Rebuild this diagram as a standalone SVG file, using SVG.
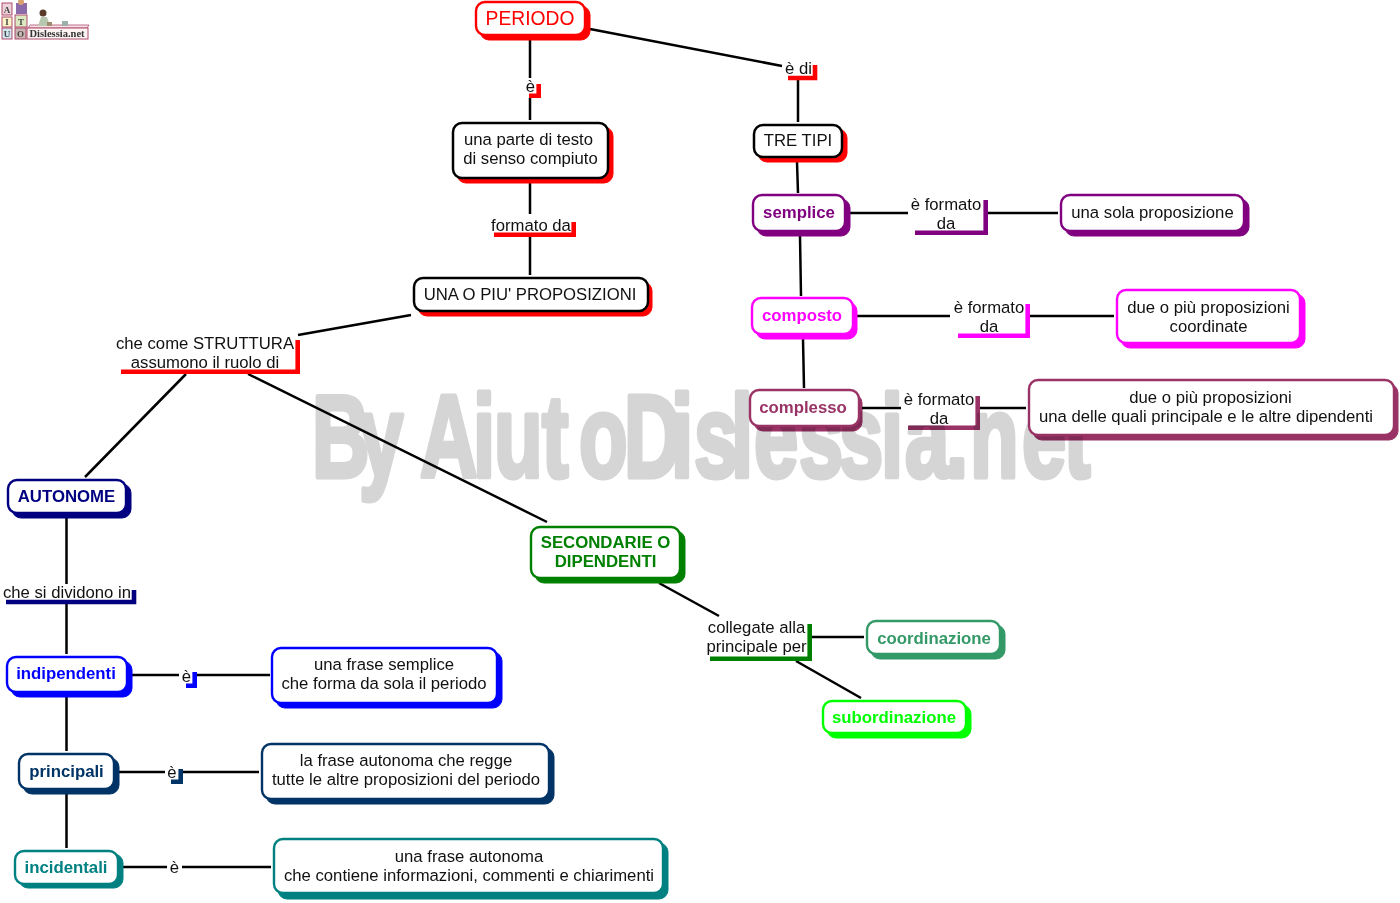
<svg xmlns="http://www.w3.org/2000/svg" width="1400" height="903" viewBox="0 0 1400 903">
<style>
text{font-family:"Liberation Sans",Arial,sans-serif;font-size:16.7px;text-anchor:middle;fill:#111}
.h text{font-weight:bold;font-size:16.8px;fill:currentColor}
.s{fill:currentColor;stroke:currentColor;stroke-width:1}
.b{fill:#fff;stroke:currentColor;stroke-width:2.4}
.k .b{stroke:#000;stroke-width:2.5}
.con path{fill:none;stroke:#000;stroke-width:2.5}
.lab path{fill:none;stroke:currentColor;stroke-width:4.6}
.red{color:#f00}.pur{color:#800080}.mag{color:#f0f}.plum{color:#993366}.nav{color:#000080}.grn{color:#008000}.blu{color:#00f}.dbl{color:#003366}.tea{color:#008080}.sea{color:#339966}.lim{color:#0f0}
.plum .s,.plum path{mix-blend-mode:multiply}
#watermark{font-family:"Liberation Sans",sans-serif;font-weight:bold;font-size:117px;fill:#d5d5d5;stroke:#d5d5d5;stroke-width:5;stroke-linejoin:round;text-anchor:start}
.lg text{font-family:"Liberation Serif",serif;font-weight:bold;font-size:9px;fill:#444}
</style>
<text id="watermark" transform="scale(.68 1)" y="477" x="458.800 527.900 588.200 617.600 695.600 726.500 797.100 851.500 917.600 986.800 1020.600 1075 1108.800 1175 1233.800 1295.600 1330.900 1391.200 1426.500 1502.900 1564.700">By AiutoDislessia.net</text>

<g id="logo" class="lg">
<path d="M28 28L30 25H89L87 28Z" fill="#f6e4e8" stroke="#b04a6c" stroke-width=".8"/>
<rect x="2" y="3" width="10" height="12" fill="#eed3da" stroke="#b04a6c"/>
<rect x="15" y="15" width="12" height="12" fill="#dbe8c0" stroke="#b04a6c"/>
<rect x="2" y="17" width="10" height="10" fill="#fbf5c8" stroke="#b04a6c"/>
<rect x="2" y="28" width="10" height="11" fill="#cfe6ef" stroke="#b04a6c"/>
<rect x="15" y="28" width="11" height="11" fill="#c9b5b0" stroke="#b04a6c"/>
<rect x="27" y="28" width="61" height="11" fill="#fdf3f3" stroke="#b04a6c"/>
<rect x="16" y="3" width="11" height="11" fill="#8a6aa8"/>
<circle cx="21" cy="2" r="3" fill="#d9a070"/>
<circle cx="43" cy="13" r="3.500" fill="#5a3a2a"/>
<path d="M38 26L41 17H47L50 26Z" fill="#b8c8b0"/>
<rect x="47" y="22" width="5" height="4" fill="#a08a70"/>
<rect x="62" y="21" width="6" height="5" fill="#9cb0a8"/>
<text x="7" y="13">A</text><text x="7" y="25">I</text><text x="21" y="25">T</text><text x="7" y="37">U</text><text x="20.500" y="37">O</text>
<text x="57" y="37" style="font-size:10.500px;fill:#333">Dislessia.net</text>
</g>

<g id="connectors" class="con">
<path d="M530 40V78M530 98V120"/>
<path d="M590 29L782 66M798 80V122"/>
<path d="M530 183V214M530 237V275"/>
<path d="M797 162L798 193M800 236L801 296M803 339L804 388"/>
<path d="M850 213H908M988 213H1058"/>
<path d="M857 316H950M1030 316H1114"/>
<path d="M862 408H901M980 408H1026"/>
<path d="M411 315L298 335M186 374L85 477M248 374L547 522"/>
<path d="M66.500 518V584M66.500 604V654M66.500 697V751M66.500 794V848"/>
<path d="M132 675H179M197 675H270"/>
<path d="M119 772H165M183 772H259"/>
<path d="M123 867H167M182 867H271"/>
<path d="M659 583L719 616M812 637H864M796 661L861 698"/>
</g>

<g id="node-periodo" class="red"><rect class="s" x="480" y="6" width="110" height="34" rx="9"/><rect class="b" x="476" y="2" width="109" height="33" rx="9"/><text x="530" y="25" style="font-size:19.300px;fill:#f00">PERIODO</text></g>
<g id="node-parte" class="red k"><rect class="s" x="457" y="127" width="156" height="56" rx="9"/><rect class="b" x="453" y="123" width="155" height="55" rx="9"/><text x="528.500" y="145">una parte di testo</text><text x="530.500" y="164">di senso compiuto</text></g>
<g id="node-tre" class="red k"><rect class="s" x="758" y="129" width="89" height="33" rx="9"/><rect class="b" x="754" y="125" width="88" height="32" rx="9"/><text x="798" y="146">TRE TIPI</text></g>
<g id="node-una-piu" class="red k"><rect class="s" x="418" y="282" width="234" height="34" rx="9"/><rect class="b" x="414" y="278" width="234" height="33" rx="9"/><text x="530" y="300">UNA O PIU' PROPOSIZIONI</text></g>
<g id="node-semplice" class="pur h"><rect class="s" x="757" y="199" width="93" height="37" rx="9"/><rect class="b" x="753" y="195" width="92" height="36" rx="9"/><text x="799" y="218">semplice</text></g>
<g id="node-composto" class="mag h"><rect class="s" x="756" y="302" width="101" height="37" rx="9"/><rect class="b" x="752" y="298" width="101" height="36" rx="9"/><text x="802" y="321">composto</text></g>
<g id="node-complesso" class="plum h"><rect class="s" x="754" y="394" width="108" height="37" rx="9"/><rect class="b" x="750" y="390" width="109" height="36" rx="9"/><text x="803" y="413">complesso</text></g>
<g id="node-sola" class="pur"><rect class="s" x="1065" y="199" width="184" height="37" rx="9"/><rect class="b" x="1061" y="195" width="183" height="36" rx="9"/><text x="1152.500" y="218">una sola proposizione</text></g>
<g id="node-coordinate" class="mag"><rect class="s" x="1121" y="294" width="184" height="54" rx="9"/><rect class="b" x="1117" y="290" width="183" height="53" rx="9"/><text x="1208.500" y="313">due o più proposizioni</text><text x="1208.500" y="332">coordinate</text></g>
<g id="node-dipendenti" class="plum"><rect class="s" x="1033" y="384" width="365" height="56" rx="9"/><rect class="b" x="1029" y="380" width="365" height="55" rx="9"/><text x="1210.500" y="403">due o più proposizioni</text><text x="1206" y="422">una delle quali principale e le altre dipendenti</text></g>
<g id="node-autonome" class="nav h"><rect class="s" x="12" y="484" width="119" height="34" rx="9"/><rect class="b" x="8" y="480" width="118" height="33" rx="9"/><text x="66.500" y="502">AUTONOME</text></g>
<g id="node-secondarie" class="grn h"><rect class="s" x="535" y="531" width="150" height="52" rx="9"/><rect class="b" x="531" y="527" width="149" height="51" rx="9"/><text x="605.500" y="548">SECONDARIE O</text><text x="605.500" y="567">DIPENDENTI</text></g>
<g id="node-indipendenti" class="blu h"><rect class="s" x="11" y="661" width="121" height="36" rx="9"/><rect class="b" x="7" y="657" width="120" height="35" rx="9"/><text x="66" y="679">indipendenti</text></g>
<g id="node-principali" class="dbl h"><rect class="s" x="23" y="758" width="96" height="36" rx="9"/><rect class="b" x="19" y="754" width="95" height="35" rx="9"/><text x="66.500" y="777">principali</text></g>
<g id="node-incidentali" class="tea h"><rect class="s" x="19" y="854" width="104" height="34" rx="9"/><rect class="b" x="15" y="851" width="103" height="33" rx="9"/><text x="66" y="873">incidentali</text></g>
<g id="node-semplice-def" class="blu"><rect class="s" x="276" y="652" width="226" height="56" rx="9"/><rect class="b" x="272" y="648" width="225" height="55" rx="9"/><text x="384" y="670">una frase semplice</text><text x="384" y="689">che forma da sola il periodo</text></g>
<g id="node-regge" class="dbl"><rect class="s" x="266" y="748" width="288" height="56" rx="9"/><rect class="b" x="262" y="744" width="287" height="55" rx="9"/><text x="406" y="766">la frase autonoma che regge</text><text x="406" y="785">tutte le altre proposizioni del periodo</text></g>
<g id="node-chiarimenti" class="tea"><rect class="s" x="278" y="843" width="390" height="56" rx="9"/><rect class="b" x="274" y="839" width="389" height="54" rx="9"/><text x="469" y="862">una frase autonoma</text><text x="469" y="881">che contiene informazioni, commenti e chiarimenti</text></g>
<g id="node-coordinazione" class="sea h"><rect class="s" x="871" y="625" width="134" height="34" rx="9"/><rect class="b" x="867" y="621" width="133" height="33" rx="9"/><text x="934" y="644">coordinazione</text></g>
<g id="node-subordinazione" class="lim h"><rect class="s" x="827" y="705" width="144" height="33" rx="9"/><rect class="b" x="823" y="701" width="143" height="32" rx="9"/><text x="894" y="723">subordinazione</text></g>

<g id="label-e1" class="lab red"><path d="M529 95.700H538.700V84"/><text x="530.500" y="92">è</text></g>
<g id="label-edi" class="lab red"><path d="M788 78H815V65"/><text x="798.500" y="74">è di</text></g>
<g id="label-formato" class="lab red"><path d="M494 234.700H573.700V222"/><text x="531" y="231">formato da</text></g>
<g id="label-struttura" class="lab red"><path d="M121 371.700H297.700V340"/><text x="205" y="349">che come STRUTTURA</text><text x="205" y="368">assumono il ruolo di</text></g>
<g id="label-f1" class="lab pur"><path d="M915 232.700H985.700V200"/><text x="946" y="210">è formato</text><text x="946" y="229">da</text></g>
<g id="label-f2" class="lab mag"><path d="M958 335.700H1027.700V304"/><text x="989" y="313">è formato</text><text x="989" y="332">da</text></g>
<g id="label-f3" class="lab plum"><rect x="901" y="388" width="76" height="37" fill="#fff"/><path d="M908 427.700H977.700V396"/><text x="939" y="405">è formato</text><text x="939" y="424">da</text></g>
<g id="label-dividono" class="lab nav"><path d="M6 602H134V590"/><text x="67" y="598">che si dividono in</text></g>
<g id="label-e2" class="lab blu"><path d="M186 685.700H194.700V672"/><text x="186.500" y="682">è</text></g>
<g id="label-e3" class="lab dbl"><path d="M171 781.700H180.700V769"/><text x="172" y="778">è</text></g>
<g id="label-e4"><text x="174.500" y="873">è</text></g>
<g id="label-collegate" class="lab grn"><path d="M710 658.700H809.700V624"/><text x="756.500" y="633">collegate alla</text><text x="756.500" y="652">principale per</text></g>
</svg>
